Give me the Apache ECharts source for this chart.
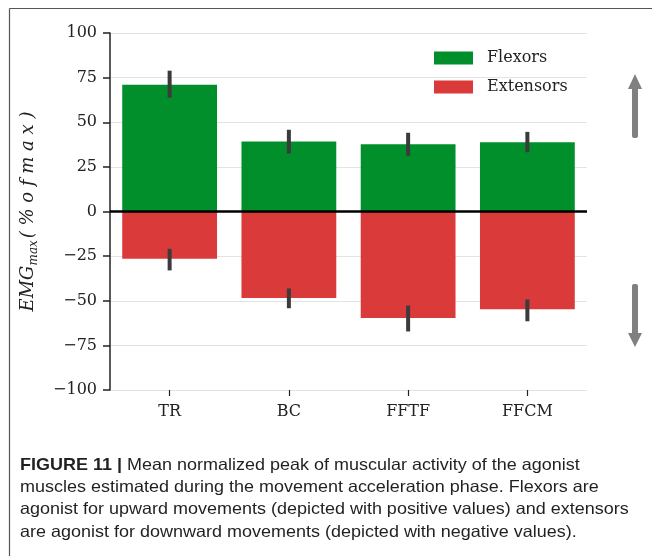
<!DOCTYPE html>
<html>
<head>
<meta charset="utf-8">
<script src="https://cdn.jsdelivr.net/npm/echarts@6/dist/echarts.min.js"></script>
<style>
html,body{margin:0;padding:0;background:#fff;}
#main{width:652px;height:556px;}
</style>
</head>
<body>
<div id="main"></div>
<script>
const categories = ['TR', 'BC', 'FFTF', 'FFCM'];
const flexors = [71, 39.2, 37.7, 38.8];
const flexorsLow = [63.8, 32.5, 31.2, 33.2];
const flexorsHigh = [78.9, 45.8, 44.1, 44.6];
const extensors = [-26.5, -48.4, -59.6, -54.7];
const extensorsLow = [-33, -54.2, -67.2, -61.5];
const extensorsHigh = [-20.9, -43.1, -52.7, -49.3];
const yTicks = [-100, -75, -50, -25, 0, 25, 50, 75, 100];
const captionLines = [
  '{b|FIGURE 11 |} Mean normalized peak of muscular activity of the agonist',
  'muscles estimated during the movement acceleration phase. Flexors are',
  'agonist for upward movements (depicted with positive values) and extensors',
  'are agonist for downward movements (depicted with negative values).'
];

const serif = '"DejaVu Serif", "Liberation Serif", serif';
const chart = echarts.init(document.getElementById('main'), null, {renderer: 'canvas'});

const errData = [];
for (let i = 0; i < categories.length; i++) {
  errData.push([i, flexorsLow[i], flexorsHigh[i]]);
  errData.push([i, extensorsLow[i], extensorsHigh[i]]);
}

function renderErr(params, api) {
  const x = api.value(0);
  const p1 = api.coord([x, api.value(1)]);
  const p2 = api.coord([x, api.value(2)]);
  return {
    type: 'rect',
    shape: {x: p1[0] - 2, y: p2[1], width: 4, height: p1[1] - p2[1]},
    style: {fill: '#3b3b3b'}
  };
}

const arrowColor = '#808080';
const capFont = '"Liberation Sans", Arial, sans-serif';
const option = {
  animation: false,
  backgroundColor: '#fff',
  grid: {left: 110, right: 65, top: 33, bottom: 166, containLabel: false},
  legend: {
    data: ['Flexors', 'Extensors'],
    orient: 'vertical',
    left: 434,
    top: 50,
    padding: 0,
    itemWidth: 39,
    itemHeight: 13,
    itemGap: 13,
    icon: 'rect',
    textStyle: {fontFamily: serif, fontSize: 16, lineHeight: 16, color: '#222', padding: [0, 0, 0, 9]}
  },
  xAxis: {
    type: 'category',
    data: categories,
    axisLine: {show: false, onZero: false},
    axisTick: {show: true, alignWithLabel: true, length: 6, lineStyle: {color: '#222', width: 1.2}},
    axisLabel: {fontFamily: serif, fontSize: 16, color: '#222', margin: 14},
    splitLine: {show: false}
  },
  yAxis: {
    type: 'value',
    min: -100,
    max: 100,
    interval: 25,
    axisLine: {show: true, lineStyle: {color: '#222', width: 1.5}},
    axisTick: {show: true, length: 7, lineStyle: {color: '#222', width: 1.5}},
    axisLabel: {
      fontFamily: serif, fontSize: 16, color: '#222', margin: 13,
      formatter: v => (yTicks.indexOf(v) >= 0 ? String(v).replace('-', '\u2212') : '')
    },
    splitLine: {show: true, lineStyle: {color: '#e3e3e3', width: 1}},
    name: '{a|EMG}{s|max}{a|( % o f m a x )}',
    nameLocation: 'middle',
    nameGap: 70,
    nameRotate: 90,
    nameTextStyle: {
      rich: {
        a: {fontFamily: serif, fontStyle: 'italic', fontSize: 18, color: '#222', lineHeight: 24, verticalAlign: 'middle'},
        s: {fontFamily: serif, fontStyle: 'italic', fontSize: 12, color: '#222', lineHeight: 12, verticalAlign: 'bottom', padding: [0, 2, 0, 0]}
      }
    }
  },
  series: [
    {
      name: 'Flexors', type: 'bar', data: flexors, barWidth: '79.5%', barGap: '-100%',
      itemStyle: {color: '#008f2b'},
      markLine: {
        silent: true, symbol: 'none', label: {show: false},
        lineStyle: {color: '#000', width: 2.5, type: 'solid'},
        data: [{yAxis: 0}]
      }
    },
    {
      name: 'Extensors', type: 'bar', data: extensors, barWidth: '79.5%', barGap: '-100%',
      itemStyle: {color: '#db3a3a'}
    },
    {
      type: 'custom', renderItem: renderErr, data: errData, z: 5,
      encode: {x: 0, y: [1, 2]}
    }
  ],
  graphic: [
    {type: 'line', shape: {x1: 9.5, y1: 8.5, x2: 652, y2: 8.5}, style: {stroke: '#555', lineWidth: 1.2}},
    {type: 'line', shape: {x1: 9.5, y1: 8.5, x2: 9.5, y2: 556}, style: {stroke: '#555', lineWidth: 1.2}},
    {type: 'rect', shape: {x: 632, y: 87, width: 6, height: 51, r: 2}, style: {fill: arrowColor}},
    {type: 'polygon', shape: {points: [[635, 74], [642, 89], [628, 89]]}, style: {fill: arrowColor}},
    {type: 'rect', shape: {x: 632, y: 284, width: 6, height: 51, r: 2}, style: {fill: arrowColor}},
    {type: 'polygon', shape: {points: [[635, 347], [642, 333], [628, 333]]}, style: {fill: arrowColor}},
    {
      type: 'text', x: 20, y: 454, scaleX: 1.09, scaleY: 1,
      style: {
        text: captionLines.join('\n'),
        fontFamily: capFont,
        fontSize: 16.5, lineHeight: 22.3, fill: '#231f20',
        rich: {
          b: {fontFamily: capFont, fontWeight: 'bold', fontSize: 16.5, lineHeight: 22.3, fill: '#231f20'}
        }
      }
    }
  ]
};
chart.setOption(option);
</script>
</body>
</html>
